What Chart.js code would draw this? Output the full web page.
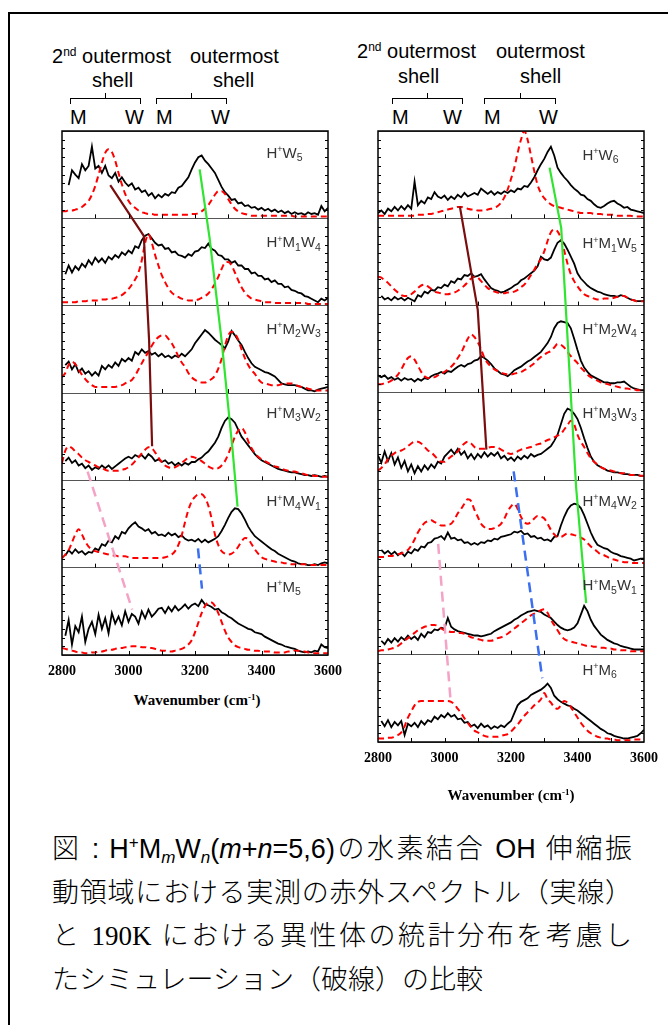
<!DOCTYPE html>
<html lang="ja">
<head>
<meta charset="utf-8">
<title>H+MmWn OH stretch spectra</title>
<script src="https://cdn.jsdelivr.net/npm/chart.js@4.4.1/dist/chart.umd.min.js"></script>
<style>
  html, body { margin: 0; padding: 0; background: #fff; }
  body { width: 668px; height: 1025px; position: relative; overflow: hidden;
         font-family: "Liberation Sans", Arial, sans-serif; color: #000; }
  .frame { position: absolute; left: 8px; top: 12px; width: 700px; height: 1040px;
           border-top: 2px solid #000; border-left: 2px solid #000; }
  .hd { position: absolute; font-size: 20px; line-height: 20px; white-space: nowrap; }
  .hd sup { font-size: 12px; vertical-align: 7px; line-height: 0; }
  .br { position: absolute; top: 98px; height: 5px; border: 1.5px solid #000; border-bottom: none; }
  .brt { position: absolute; top: 93px; width: 0; height: 5px; border-left: 1.5px solid #000; }
  canvas { position: absolute; }
  .axt { position: absolute; font: bold 15px "Liberation Serif", "Times New Roman", serif;
         white-space: nowrap; transform: translateX(-50%); }
  .axt sup { font-size: 9px; vertical-align: 5px; line-height: 0; }
  .cap { position: absolute; left: 52px; font-size: 27px; line-height: 27px; white-space: nowrap;
         font-weight: 300;
         font-family: "Liberation Sans", "Noto Sans CJK JP", sans-serif; }
  .cap.j { width: 580px; white-space: normal; text-align: justify; text-align-last: justify; }
  .cap sup, .cap sub { font-size: 17px; line-height: 0; }
  .cap sup { vertical-align: 10px; }
  .cap sub { vertical-align: -5px; }
  .serif { font-family: "Liberation Serif", "Times New Roman", serif; }
</style>
</head>
<body>
<div class="frame"></div>

<!-- left header -->
<div class="hd" style="left:52px;top:46px">2<sup>nd</sup> outermost</div>
<div class="hd" style="left:190px;top:46px">outermost</div>
<div class="hd" style="left:92px;top:70px">shell</div>
<div class="hd" style="left:213px;top:70px">shell</div>
<div class="br" style="left:70px;width:69px"></div>
<div class="brt" style="left:105px"></div>
<div class="br" style="left:156px;width:69px"></div>
<div class="brt" style="left:191px"></div>
<div class="hd" style="left:70px;top:107px">M</div>
<div class="hd" style="left:125px;top:107px">W</div>
<div class="hd" style="left:156px;top:107px">M</div>
<div class="hd" style="left:211px;top:107px">W</div>

<!-- right header -->
<div class="hd" style="left:357px;top:41px">2<sup>nd</sup> outermost</div>
<div class="hd" style="left:496px;top:41px">outermost</div>
<div class="hd" style="left:398px;top:66px">shell</div>
<div class="hd" style="left:520px;top:66px">shell</div>
<div class="br" style="left:392px;width:69px"></div>
<div class="brt" style="left:427px"></div>
<div class="br" style="left:484px;width:70px"></div>
<div class="brt" style="left:520px"></div>
<div class="hd" style="left:392px;top:107px">M</div>
<div class="hd" style="left:443px;top:107px">W</div>
<div class="hd" style="left:484px;top:107px">M</div>
<div class="hd" style="left:539px;top:107px">W</div>

<canvas id="leftChart" width="318" height="566" style="left:32px;top:121px"></canvas>
<canvas id="rightChart" width="318" height="653" style="left:348px;top:121px"></canvas>

<div class="axt" style="left:197px;top:692px">Wavenumber (cm<sup>-1</sup>)</div>
<div class="axt" style="left:511px;top:787px">Wavenumber (cm<sup>-1</sup>)</div>

<div class="cap j" style="top:836px">図 : H<sup>+</sup>M<sub><i>m</i></sub>W<sub><i>n</i></sub>(<i>m</i>+<i>n</i>=5,6)の水素結合 OH 伸縮振</div>
<div class="cap j" style="top:880px">動領域における実測の赤外スペクトル（実線）</div>
<div class="cap j" style="top:923px">と <span class="serif">190K</span> における異性体の統計分布を考慮し</div>
<div class="cap" style="top:967px">たシミュレーション（破線）の比較</div>

<script>
// sampling grid (cm-1) shared by every trace
const wavenumbers = [
  2800,2810,2820,2830,2840,2850,2860,2870,2880,2890,
  2900,2910,2920,2930,2940,2950,2960,2970,2980,2990,
  3000,3010,3020,3030,3040,3050,3060,3070,3080,3090,
  3100,3110,3120,3130,3140,3150,3160,3170,3180,3190,
  3200,3210,3220,3230,3240,3250,3260,3270,3280,3290,
  3300,3310,3320,3330,3340,3350,3360,3370,3380,3390,
  3400,3410,3420,3430,3440,3450,3460,3470,3480,3490,
  3500,3510,3520,3530,3540,3550,3560,3570,3580,3590,
  3600];
const xTickLabels = [2800, 3000, 3200, 3400, 3600];
const xMinorTicks = [2900, 3000, 3100, 3200, 3300, 3400, 3500];

// intensities in % of one panel height; exp = measured, sim = simulation
// ---- left column ----
const expW5 = [
  null,null,38,55,50,46,62,55,60,82,
  57,60,52,60,49,46,52,42,47,41,
  37,40,33,35,30,32,26,29,23,27,
  24,28,26,30,29,35,37,42,47,56,
  64,70,72,66,62,57,52,44,36,30,
  26,21,22,17,18,14,15,12,13,10,
  12,9,11,8,10,7,9,6,8,5,
  7,5,6,4,7,5,6,4,14,8,
  12];
const simW5 = [
  8,8,9,9,10,11,13,16,20,27,
  37,50,64,75,79,76,66,52,39,28,
  20,15,12,9,7,6,5,5,4,4,
  4,4,4,4,4,4,4,4,4,5,
  5,6,8,11,15,21,27,31,31,28,
  22,16,11,8,6,5,4,3,3,3,
  3,3,3,3,3,3,3,3,3,3,
  2,2,2,2,2,2,2,2,2,2,
  2];
const expM1W4 = [
  null,36,46,38,45,41,48,44,52,47,
  55,50,54,49,56,53,58,55,61,58,
  63,60,68,66,75,80,82,77,72,69,
  70,65,66,61,62,58,57,55,59,57,
  62,63,67,66,71,65,63,58,57,53,
  53,49,51,46,46,42,42,37,38,34,
  34,30,31,27,29,25,25,21,22,18,
  17,15,14,11,10,8,6,4,8,6,
  9];
const simM1W4 = [
  4,4,4,4,4,5,5,5,6,6,
  6,6,7,7,8,8,9,10,12,15,
  19,24,30,38,52,72,82,72,58,46,
  35,27,20,15,12,10,8,7,6,6,
  6,7,9,11,14,19,25,33,42,49,
  50,46,38,29,21,15,11,8,7,6,
  5,4,4,4,3,3,3,3,3,3,
  3,3,3,3,2,2,2,2,2,2,
  2];
const expM2W3 = [
  null,32,36,27,33,24,28,22,25,20,
  24,20,31,27,32,29,35,31,39,36,
  40,37,47,44,50,46,48,44,46,42,
  45,41,43,40,43,41,45,42,46,50,
  57,62,67,72,69,65,61,58,55,51,
  59,71,66,60,55,47,40,34,30,28,
  26,24,23,21,19,15,11,10,9,9,
  9,8,7,5,3,3,2,4,5,6,
  7];
const simM2W3 = [
  18,23,32,36,33,27,21,16,12,9,
  7,7,7,7,7,7,7,8,9,11,
  13,15,20,27,34,41,47,54,60,64,
  66,66,62,57,50,42,35,30,23,18,
  15,13,12,12,14,16,20,28,39,54,
  66,70,68,61,50,40,32,26,22,16,
  12,11,10,9,9,9,10,11,11,11,
  10,8,7,6,5,4,3,3,3,3,
  3];
const expM3W2 = [
  null,22,26,20,23,17,19,14,17,12,
  15,13,17,14,17,13,16,19,22,25,
  27,25,29,27,29,25,30,27,22,24,
  21,23,19,21,17,20,17,20,18,21,
  21,24,26,30,33,38,43,50,60,68,
  72,70,66,58,50,45,40,35,30,26,
  23,21,19,17,15,13,12,11,10,9,
  9,8,7,6,6,5,6,5,4,5,
  4];
const simM3W2 = [
  20,34,39,37,33,30,26,23,21,19,
  17,15,14,12,11,11,11,11,12,13,
  15,18,22,26,31,35,38,37,32,26,
  21,17,15,14,15,17,20,23,26,27,
  26,24,22,19,16,14,13,14,17,22,
  30,40,50,57,60,55,45,37,31,27,
  24,22,20,18,16,15,13,12,11,10,
  10,9,8,7,6,6,5,5,4,4,
  4];
const expM4W1 = [
  null,14,20,16,21,17,19,15,18,17,
  22,20,27,25,31,29,36,33,41,39,
  45,49,52,47,45,42,44,39,41,37,
  38,36,40,37,39,35,37,33,31,32,
  30,33,29,32,29,31,33,36,42,49,
  57,64,68,67,62,55,47,41,36,33,
  30,27,24,21,19,16,14,12,10,8,
  7,5,4,4,3,3,4,3,5,6,
  5];
const simM4W1 = [
  11,15,20,29,38,44,38,30,24,21,
  19,18,17,16,15,14,14,13,13,13,
  12,11,11,11,11,11,11,11,11,11,
  11,12,13,15,19,26,37,52,66,76,
  81,84,84,80,71,56,38,26,19,16,
  15,16,19,24,30,34,33,27,21,16,
  12,10,9,8,7,6,6,5,5,4,
  4,4,4,4,3,3,3,3,3,3,
  3];
const expM5 = [
  null,22,40,12,33,26,44,15,30,38,
  24,46,30,42,25,48,36,44,34,50,
  38,47,44,36,50,42,52,44,48,53,
  54,48,55,50,56,51,54,58,53,57,
  59,56,63,58,57,55,52,53,49,47,
  44,42,39,36,34,32,30,29,26,25,
  24,21,19,17,15,13,12,10,9,8,
  7,5,4,3,4,3,5,4,12,9,
  8];
const simM5 = [
  8,7,6,5,4,3,3,2,2,3,
  3,4,4,5,6,6,7,8,8,9,
  9,10,10,10,9,9,8,8,7,6,
  5,5,4,4,5,6,7,9,12,17,
  26,37,48,56,60,60,56,48,38,28,
  20,15,11,9,8,7,6,6,5,5,
  4,4,4,4,3,3,3,3,4,4,
  5,5,4,4,3,3,2,2,2,2,
  2];

// ---- right column ----
const expW6 = [
  6,9,5,11,8,13,9,14,10,15,
  11,42,15,20,17,24,22,30,25,23,
  26,21,25,22,27,24,29,25,27,29,
  27,34,31,28,31,27,30,28,31,29,
  32,30,34,33,37,36,41,47,55,62,
  68,76,82,72,58,52,47,43,38,34,
  31,27,26,22,20,16,13,12,14,17,
  19,20,17,15,12,13,10,9,8,7,
  6];
const simW6 = [
  3,3,3,3,3,3,3,3,3,3,
  3,3,4,4,4,5,5,6,7,8,
  9,10,11,12,13,13,12,11,10,10,
  9,9,9,10,11,12,14,18,24,33,
  45,58,75,90,100,90,72,54,38,29,
  23,19,16,14,13,12,11,10,9,8,
  7,6,6,6,6,5,5,5,4,4,
  4,4,3,3,3,3,3,2,2,2,
  2];
const expM1W5 = [
  null,11,7,9,6,10,7,9,6,9,
  7,5,12,10,16,14,18,17,21,20,
  24,22,28,26,31,30,35,34,37,33,
  34,36,30,25,20,18,17,15,16,18,
  20,23,25,29,31,34,37,40,45,56,
  53,52,55,64,72,75,71,64,56,48,
  37,31,27,23,20,18,16,15,13,12,
  11,11,10,12,11,9,7,6,5,5,
  5];
const simM1W5 = [
  33,32,29,26,22,18,15,12,11,11,
  13,16,20,23,24,22,19,16,15,14,
  13,13,14,15,17,20,23,27,31,33,
  32,28,24,20,18,16,15,14,14,15,
  15,16,18,21,24,29,35,41,48,53,
  62,74,84,87,85,77,63,48,36,28,
  22,17,13,11,10,8,7,7,8,8,
  8,9,10,11,11,9,7,6,5,5,
  5];
const expM2W4 = [
  20,18,20,16,18,15,17,14,17,15,
  16,13,16,14,17,16,19,21,22,24,
  22,25,24,27,30,32,30,33,34,37,
  38,42,40,37,33,28,25,22,21,19,
  22,26,28,30,33,36,38,41,44,47,
  52,57,64,74,80,82,81,80,74,62,
  49,37,29,24,20,18,16,14,12,12,
  11,11,12,12,13,10,7,5,4,3,
  3];
const simM2W4 = [
  10,10,11,12,14,17,21,27,34,40,
  42,38,31,24,19,17,17,18,20,22,
  24,27,30,34,40,46,54,62,67,64,
  58,50,40,34,30,27,25,23,22,21,
  21,22,23,24,26,28,31,34,38,41,
  44,46,48,52,56,55,52,47,42,38,
  34,29,25,21,18,16,14,12,11,10,
  9,8,7,6,5,5,4,4,3,3,
  3];
const expM3W3 = [
  28,20,33,22,31,18,26,14,22,10,
  18,8,16,10,17,12,18,14,21,19,
  27,31,35,30,36,29,33,25,30,24,
  30,26,32,27,31,28,32,25,28,23,
  26,22,27,24,28,25,30,27,29,30,
  33,36,39,45,52,64,76,82,80,76,
  70,60,48,37,27,21,17,15,13,11,
  10,9,9,8,7,7,6,6,6,5,
  5];
const simM3W3 = [
  11,14,18,24,28,31,33,34,36,39,
  42,44,44,42,38,34,32,28,24,21,
  21,24,27,30,33,38,42,44,42,38,
  36,36,36,37,38,38,37,35,33,31,
  30,31,33,35,36,37,38,40,41,42,
  44,46,47,49,51,53,58,63,68,64,
  52,44,38,31,25,21,18,15,13,12,
  11,10,9,8,8,7,6,6,6,5,
  5];
const expM4W2 = [
  null,20,16,19,15,18,14,17,13,18,
  16,21,19,24,23,28,29,33,34,36,
  32,40,33,34,31,32,28,29,26,28,
  26,29,28,31,30,33,32,35,36,37,
  38,41,40,42,38,39,35,36,33,34,
  31,32,30,35,36,48,58,66,71,73,
  72,68,60,50,40,32,26,24,22,21,
  18,16,15,13,12,11,10,8,9,10,
  10];
const simM4W2 = [
  12,12,12,13,13,14,15,16,18,20,
  25,32,40,46,51,53,54,52,50,48,
  48,49,50,55,62,67,73,78,76,66,
  58,50,46,44,44,45,47,50,56,64,
  70,73,67,58,52,50,52,56,59,58,
  56,50,43,38,35,35,37,39,38,37,
  36,34,32,28,24,21,18,15,14,12,
  10,9,8,7,6,6,5,5,5,5,
  5];
const expM5W1 = [
  null,16,12,18,14,19,15,20,17,22,
  18,21,17,24,20,26,25,29,28,31,
  30,42,32,29,27,26,25,24,23,22,
  22,21,22,23,24,27,29,31,33,35,
  37,40,42,45,47,49,50,51,50,49,
  46,44,42,38,34,31,29,28,29,31,
  36,46,56,50,40,33,28,23,20,17,
  15,13,12,10,9,8,7,6,6,6,
  6];
const simM5W1 = [
  4,5,5,6,7,8,10,13,16,19,
  22,25,28,30,32,33,34,34,33,30,
  28,27,26,26,25,25,24,22,20,19,
  18,17,16,16,16,17,19,20,22,24,
  27,30,33,36,39,42,45,47,49,51,
  52,48,40,34,28,22,18,16,15,14,
  13,12,11,10,10,9,9,8,8,7,
  7,6,6,5,5,5,4,4,4,4,
  4];
const expM6 = [
  null,24,18,25,17,23,19,24,8,21,
  18,22,17,24,20,25,23,29,26,31,
  28,33,29,31,26,27,22,23,18,20,
  16,21,17,19,15,18,16,19,17,21,
  24,33,42,46,48,50,54,56,58,60,
  63,67,62,53,49,46,44,42,41,38,
  36,33,30,27,24,21,18,15,13,10,
  9,7,6,5,4,4,5,6,7,10,
  14];
const simM6 = [
  4,4,4,5,5,6,8,11,18,28,
  35,42,46,47,47,47,47,47,47,47,
  47,47,46,43,38,33,27,22,17,13,
  11,9,7,6,6,6,6,7,8,9,
  12,16,20,25,30,34,38,42,45,49,
  56,49,45,40,38,42,47,45,40,34,
  28,22,17,13,10,8,6,5,4,4,
  3,3,2,2,2,2,2,3,3,3,
  3];

// panel names, top to bottom
const leftLabels = ['H^+W_5', 'H^+M_1W_4', 'H^+M_2W_3', 'H^+M_3W_2', 'H^+M_4W_1', 'H^+M_5'];
const rightLabels = ['H^+W_6', 'H^+M_1W_5', 'H^+M_2W_4', 'H^+M_3W_3', 'H^+M_4W_2', 'H^+M_5W_1', 'H^+M_6'];

// guide lines across panels: wavenumber and stacked height (panel units, bottom panel = 0..1)
const leftBrownWn = [2945, 3046, 3062, 3071];
const leftBrownY = [5.38, 4.80, 3.60, 2.39];
const leftGreenWn = [3214, 3244, 3280, 3313, 3328];
const leftGreenY = [5.56, 4.77, 3.60, 2.35, 1.70];
const leftPinkWn = [2877, 3011];
const leftPinkY = [2.10, 0.52];
const leftBlueWn = [3209, 3221];
const leftBlueY = [1.22, 0.76];
const rightBrownWn = [3046, 3100, 3126];
const rightBrownY = [6.14, 4.95, 3.35];
const rightGreenWn = [3316, 3351, 3396, 3426];
const rightGreenY = [6.58, 5.89, 2.91, 1.59];
const rightPinkWn = [2981, 3019];
const rightPinkY = [2.27, 0.44];
const rightBlueWn = [3208, 3294];
const rightBlueY = [3.10, 0.73];

// layout only: label baseline distance below each panel top (px)
const leftLabelDrop = [27, 29, 28, 25, 26, 24];
const rightLabelDrop = [29, 30, 28, 25, 26, 23, 20];
const labelWn = 3415;

const BROWN = "#7a0d0d", GREEN = "#2fe52f", PINK = "#f4a2c6", BLUE = "#3b6ff0";

function toPoints(values, offset) {
  return values.map((v, i) => ({ x: wavenumbers[i], y: v == null ? null : offset + v / 100 }));
}

function guide(wn, ys, color, dashed) {
  return {
    data: wn.map((w, i) => ({ x: w, y: ys[i] })),
    borderColor: color,
    borderWidth: dashed ? 2.5 : 2.2,
    borderDash: dashed ? [10, 6] : [],
    pointRadius: 0,
    tension: 0,
  };
}

function buildDatasets(exps, sims, guides) {
  const n = exps.length;
  const sets = guides.slice();
  sims.forEach((s, p) => {
    sets.push({
      data: toPoints(s, n - 1 - p),
      borderColor: "#ff0000",
      borderWidth: 2,
      borderDash: [6, 4],
      pointRadius: 0,
      cubicInterpolationMode: "monotone",
    });
  });
  exps.forEach((e, p) => {
    sets.push({
      data: toPoints(e, n - 1 - p),
      borderColor: "#000",
      borderWidth: 1.8,
      pointRadius: 0,
      tension: 0,
    });
  });
  return sets;
}

function drawFormula(ctx, str, x, y, size) {
  let cx = x;
  for (let i = 0; i < str.length; i++) {
    let ch = str[i], fs = size, dy = 0;
    if (ch === "^") { ch = str[++i]; fs = size * 0.6; dy = -size * 0.38; }
    else if (ch === "_") { ch = str[++i]; fs = size * 0.7; dy = size * 0.22; }
    ctx.font = fs + 'px "Liberation Sans", Arial, sans-serif';
    ctx.fillText(ch, cx, y + dy);
    cx += ctx.measureText(ch).width;
  }
}

// frame, inward ticks and panel names
const panelDecor = {
  id: "panelDecor",
  afterDatasetsDraw(chart, args, opts) {
    const { ctx, chartArea: a, scales } = chart;
    const xs = scales.x, ys = scales.y;
    const n = opts.labels.length;
    ctx.save();
    ctx.strokeStyle = "#000";
    ctx.lineWidth = 1;
    ctx.beginPath();
    for (let p = 0; p < n; p++) {
      const yb = ys.getPixelForValue(p);
      xMinorTicks.forEach((t) => {
        const px = Math.round(xs.getPixelForValue(t)) + 0.5;
        ctx.moveTo(px, yb);
        ctx.lineTo(px, yb - 4);
      });
      for (let k = 1; k < 10; k++) {
        const py = Math.round(ys.getPixelForValue(p + k / 10)) + 0.5;
        ctx.moveTo(a.left, py); ctx.lineTo(a.left + 3, py);
        ctx.moveTo(a.right, py); ctx.lineTo(a.right - 3, py);
      }
    }
    ctx.stroke();
    ctx.lineWidth = 1.5;
    ctx.strokeRect(a.left, a.top, a.width, a.height);

    ctx.fillStyle = "#333";
    ctx.textBaseline = "alphabetic";
    opts.labels.forEach((lab, p) => {
      const top = ys.getPixelForValue(n - p);
      drawFormula(ctx, lab, xs.getPixelForValue(labelWn), top + opts.drops[p], 15);
    });
    ctx.restore();
  },
};

function makeChart(id, exps, sims, guides, labels, drops, pad) {
  const n = exps.length;
  return new Chart(document.getElementById(id), {
    type: "line",
    data: { datasets: buildDatasets(exps, sims, guides) },
    options: {
      responsive: false,
      animation: false,
      devicePixelRatio: 1,
      layout: { padding: pad },
      plugins: {
        legend: { display: false },
        tooltip: { enabled: false },
        panelDecor: { labels, drops },
      },
      scales: {
        x: {
          type: "linear",
          min: 2800,
          max: 3600,
          afterFit: (s) => { s.height = 30; },
          afterBuildTicks: (s) => { s.ticks = xTickLabels.map((v) => ({ value: v })); },
          grid: { display: false, drawTicks: false },
          border: { display: false },
          ticks: {
            padding: 8,
            maxRotation: 0,
            autoSkip: false,
            color: "#000",
            font: { family: '"Liberation Serif", "Times New Roman", serif', size: 14, weight: "bold" },
            callback: (v) => String(v),
          },
        },
        y: {
          min: 0,
          max: n,
          afterFit: (s) => { s.width = 0; },
          ticks: { display: false, stepSize: 1 },
          grid: { color: "#555", lineWidth: 1, drawTicks: false },
          border: { display: false },
        },
      },
    },
    plugins: [panelDecor],
  });
}

makeChart(
  "leftChart",
  [expW5, expM1W4, expM2W3, expM3W2, expM4W1, expM5],
  [simW5, simM1W4, simM2W3, simM3W2, simM4W1, simM5],
  [
    guide(leftBrownWn, leftBrownY, BROWN, false),
    guide(leftGreenWn, leftGreenY, GREEN, false),
    guide(leftPinkWn, leftPinkY, PINK, true),
    guide(leftBlueWn, leftBlueY, BLUE, true),
  ],
  leftLabels,
  leftLabelDrop,
  { left: 30, right: 19, top: 10, bottom: 2 }
);

makeChart(
  "rightChart",
  [expW6, expM1W5, expM2W4, expM3W3, expM4W2, expM5W1, expM6],
  [simW6, simM1W5, simM2W4, simM3W3, simM4W2, simM5W1, simM6],
  [
    guide(rightBrownWn, rightBrownY, BROWN, false),
    guide(rightGreenWn, rightGreenY, GREEN, false),
    guide(rightPinkWn, rightPinkY, PINK, true),
    guide(rightBlueWn, rightBlueY, BLUE, true),
  ],
  rightLabels,
  rightLabelDrop,
  { left: 30, right: 21, top: 10, bottom: 2 }
);
</script>
</body>
</html>
